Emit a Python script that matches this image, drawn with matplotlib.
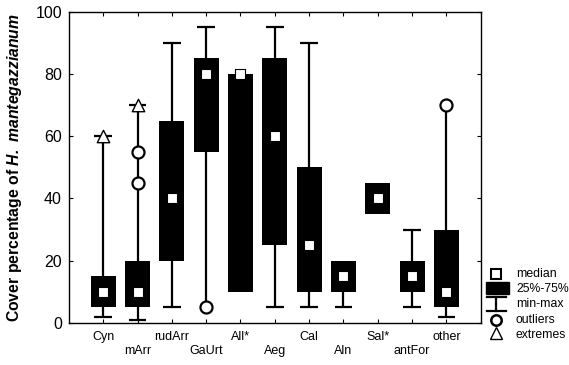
import numpy as np
import matplotlib.pyplot as plt

plt.rcParams['font.family'] = ['Liberation Sans', 'DejaVu Sans']
plt.rcParams['mathtext.fontset'] = 'custom'
plt.rcParams['mathtext.bfit'] = 'Liberation Sans:italic:bold'

# data (cover %)
groups = ['Cyn', 'mArr', 'rudArr', 'GaUrt', 'All*', 'Aeg', 'Cal', 'Aln', 'Sal*', 'antFor', 'other']
q1 = [5, 5, 20, 55, 10, 25, 10, 10, 35, 10, 5]
q3 = [15, 20, 65, 85, 80, 85, 50, 20, 45, 20, 30]
med = [10, 10, 40, 80, 80, 60, 25, 15, 40, 15, 10]
wlo = [2, 1, 5, 5, None, 5, 5, 5, None, 5, 2]
whi = [60, 70, 90, 95, None, 95, 90, None, None, 30, 70]
outliers = {'mArr': [45, 55], 'GaUrt': [5], 'other': [70]}
extremes = {'Cyn': [60], 'mArr': [70]}

fig = plt.figure(figsize=(5.69, 3.65), dpi=100)
ax = fig.add_axes([0.121, 0.115, 0.724, 0.853])

x = np.arange(1, len(groups) + 1)
bw = 0.72
cw = 0.52

for i, g in enumerate(groups):
    xi = x[i]
    outs = outliers.get(g, [])
    if wlo[i] is not None:
        ax.vlines(xi, wlo[i], q1[i], color='black', lw=1.6, zorder=1)
        if wlo[i] not in outs:
            ax.hlines(wlo[i], xi - cw / 2, xi + cw / 2, color='black', lw=1.6, zorder=1)
    if whi[i] is not None:
        ax.vlines(xi, q3[i], whi[i], color='black', lw=1.6, zorder=1)
        if whi[i] not in outs:
            ax.hlines(whi[i], xi - cw / 2, xi + cw / 2, color='black', lw=1.6, zorder=1)

ax.bar(x, np.array(q3) - np.array(q1), bottom=q1, width=bw, color='black', zorder=2)
ax.scatter(x, med, marker='s', s=42, facecolor='white', edgecolor='black', linewidth=0.8, zorder=3)

for g, vals in outliers.items():
    xi = x[groups.index(g)]
    ax.scatter([xi] * len(vals), vals, marker='o', s=75, facecolor='white',
               edgecolor='black', linewidth=1.6, zorder=4)
for g, vals in extremes.items():
    xi = x[groups.index(g)]
    ax.scatter([xi] * len(vals), vals, marker='^', s=80, facecolor='white',
               edgecolor='black', linewidth=1.0, zorder=4)

ax.set_xlim(0, 12)
ax.set_ylim(0, 100)
ax.set_yticks([0, 20, 40, 60, 80, 100])
ax.set_xticks(x)
ax.set_xticklabels([g if i % 2 == 0 else '\n' + g for i, g in enumerate(groups)], fontsize=9)
ax.tick_params(axis='y', labelsize=11.5)
ax.tick_params(direction='in', length=3, width=0.8, top=True, right=True, pad=5)
ax.tick_params(axis='x', pad=6)
for s in ax.spines.values():
    s.set_linewidth(1.0)
ax.set_ylabel(r'Cover percentage of $\mathbfit{H.\ mantegazzianum}$',
              fontsize=11.3, fontweight='bold', labelpad=8)

# legend drawn beside the plot
tr = fig.transFigure
lx = 496 / 569
tx = 516 / 569
def fy(p):
    return 1 - p / 365
fig.add_artist(plt.Rectangle((491 / 569, fy(279)), 10 / 569, 10 / 365, transform=tr,
                             facecolor='white', edgecolor='black', lw=1.5))
fig.add_artist(plt.Rectangle((486 / 569, fy(294)), 23 / 569, 12 / 365, transform=tr,
                             facecolor='black', edgecolor='black'))
fig.add_artist(plt.Line2D([487 / 569, 506 / 569], [fy(297), fy(297)], transform=tr, color='black', lw=1.6))
fig.add_artist(plt.Line2D([487 / 569, 506 / 569], [fy(311), fy(311)], transform=tr, color='black', lw=1.6))
fig.add_artist(plt.Line2D([lx, lx], [fy(297), fy(311)], transform=tr, color='black', lw=1.6))
fig.add_artist(plt.Line2D([lx], [fy(320)], transform=tr, marker='o', ms=7.5, mfc='white',
                          mec='black', mew=1.8, ls='none'))
fig.add_artist(plt.Line2D([lx], [fy(333)], transform=tr, marker='^', ms=8.5, mfc='white',
                          mec='black', mew=1.0, ls='none'))
for lab, py in [('median', 274), ('25%-75%', 289), ('min-max', 304), ('outliers', 320), ('extremes', 335)]:
    fig.text(tx, fy(py), lab, fontsize=8.8, va='center', ha='left')

fig.savefig('out.png', dpi=100)
